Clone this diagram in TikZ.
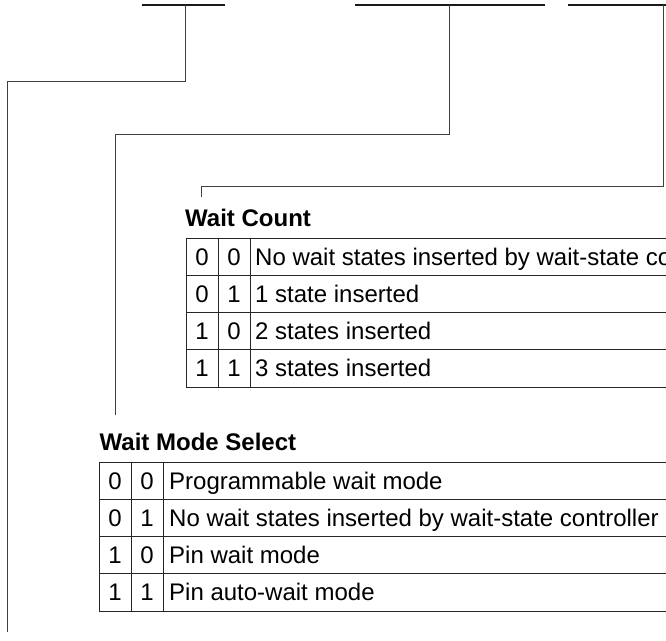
\documentclass[tikz,border=0pt]{standalone}
\usepackage{fontspec}
\setmainfont{Liberation Sans}
\begin{document}
\begin{tikzpicture}[x=1pt,y=-1pt,
  bus/.style={line width=1.4pt, black!90},
  lead/.style={line width=1pt, black!75},
  grid/.style={line width=1pt, black!85},
  ttl/.style={anchor=base west, inner sep=0pt, font=\fontsize{24}{28}\selectfont\bfseries},
  bitcell/.style={anchor=base, inner sep=0pt, font=\fontsize{24}{28}\selectfont},
  desc/.style={anchor=base west, inner sep=0pt, font=\fontsize{24}{28}\selectfont}]
\useasboundingbox (0,0) rectangle (666,640);
\clip (0,0) rectangle (666,640);

% register field bars
\coordinate (s1a) at (142,5);  \coordinate (s1b) at (225,5);
\coordinate (s2a) at (355,5);  \coordinate (s2b) at (545,5);
\coordinate (s3a) at (568,5);  \coordinate (s3b) at (690,5);
\draw[bus] (s1a) -- (s1b);
\draw[bus] (s2a) -- (s2b);
\draw[bus] (s3a) -- (s3b);

% leader lines
\coordinate (t1) at (185,5);  \coordinate (k1) at (7,81);    \coordinate (e1) at (7,632);
\coordinate (t2) at (449,5);  \coordinate (k2) at (115,134); \coordinate (e2) at (115,415);
\coordinate (t3) at (663,5);  \coordinate (k3) at (201,186); \coordinate (e3) at (201,197);
\draw[lead] (t1) |- (k1) -- (e1);
\draw[lead] (t2) |- (k2) -- (e2);
\draw[lead] (t3) |- (k3) -- (e3);

% ---- Wait Count table ----
\node[ttl] (wct) at (185,226.7) {Wait Count};
\draw[grid] (186,238) rectangle (700,387);
\foreach \yy in {275.25,312.5,349.75} \draw[grid] (186,\yy) -- (700,\yy);
\draw[grid] (218,238) -- (218,387);
\draw[grid] (250,238) -- (250,387);
\foreach \i/\a/\b/\t in {1/0/0/{No wait states inserted by wait-state controller},
                         2/0/1/{1 state inserted},
                         3/1/0/{2 states inserted},
                         4/1/1/{3 states inserted}}{
  \pgfmathsetmacro\yb{238+37.25*(\i-0.5)+8.6}
  \node[bitcell] (wca\i) at (202,\yb) {\a};
  \node[bitcell] (wcb\i) at (234,\yb) {\b};
  \node[desc] (wcd\i) at (255,\yb) {\t};
}

% ---- Wait Mode Select table ----
\node[ttl] (wmt) at (99.5,450) {Wait Mode Select};
\draw[grid] (99,462) rectangle (700,611);
\foreach \yy in {499.25,536.5,573.75} \draw[grid] (99,\yy) -- (700,\yy);
\draw[grid] (131,462) -- (131,611);
\draw[grid] (163,462) -- (163,611);
\foreach \i/\a/\b/\t in {1/0/0/{Programmable wait mode},
                         2/0/1/{No wait states inserted by wait-state controller},
                         3/1/0/{Pin wait mode},
                         4/1/1/{Pin auto-wait mode}}{
  \pgfmathsetmacro\yb{462+37.25*(\i-0.5)+8.6}
  \node[bitcell] (wma\i) at (115,\yb) {\a};
  \node[bitcell] (wmb\i) at (147,\yb) {\b};
  \node[desc] (wmd\i) at (169,\yb) {\t};
}
\end{tikzpicture}
\end{document}
